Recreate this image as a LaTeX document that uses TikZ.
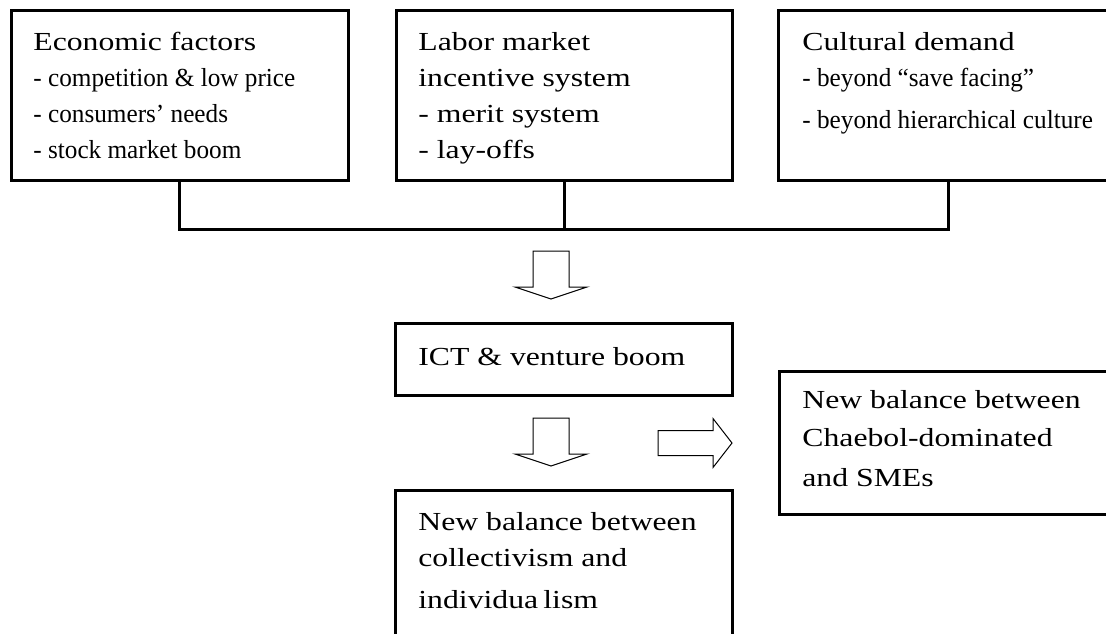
\documentclass[tikz,border=0pt]{standalone}
\usepackage{fontspec}
\setmainfont{Liberation Serif}
\newfontfamily\widefont[FakeStretch=1.22]{Liberation Serif}
\newfontfamily\tightfont[FakeStretch=0.97]{Liberation Serif}
\usetikzlibrary{fit}

\tikzset{
  box/.style={draw, line width=1.5pt, inner sep=0pt},
  txt/.style={anchor=north west, inner sep=0pt, align=left, font=\tightfont\fontsize{13}{18}\selectfont},
  wide/.style={txt, font=\widefont\fontsize{13}{18}\selectfont},
  link/.style={line width=1.5pt},
  downarrow/.pic={\draw[line width=0.5pt] (-18,0) -- (18,0) -- (18,36) -- (36,36) -- (0,48) -- (-36,36) -- (-18,36) -- cycle;},
  rightarrow/.pic={\draw[line width=0.5pt] (0,-12.5) -- (55,-12.5) -- (55,-24.5) -- (74,0) -- (55,24.5) -- (55,12.5) -- (0,12.5) -- cycle;}
}

\begin{document}
\begin{tikzpicture}[x=0.5pt,y=-0.5pt]
\path[use as bounding box, clip] (0,0) rectangle (1106,633);

% three driving factors
\node[box, fit={(11,10) (348,180)}] (eco) {};
\node[box, fit={(396,10) (732,180)}] (lab) {};
\node[box, fit={(778,10) (1118,180)}] (cul) {};
\node[txt] (ecotxt) at (33,32) {{\widefont Economic factors}\\- competition \& low price\\- consumers’ needs\\- stock market boom};
\node[wide] (labtxt) at (418,32) {Labor market\\incentive system\\- merit system\\- lay-offs};
\node[txt] (cultxt) at (802,32) {{\widefont Cultural demand}\\- beyond “save facing”\\[3pt]- beyond hierarchical culture};

\draw[link] (eco.south) -- ++(0,48) -| (cul.south);
\draw[link] (lab.south) -- ++(0,48);

\pic (down1) at (551,251) {downarrow};

% outcome boxes
\node[box, fit={(395,323) (732,395)}] (ict) {};
\node[wide] (icttxt) at (418,347) {ICT \& venture boom};

\pic (down2) at (551,418) {downarrow};
\pic (right1) at (658,443) {rightarrow};

\node[box, fit={(395,490) (732,660)}] (ind) {};
\node[wide] (indtxt) at (418,512) {New balance between\\collectivism and\\[3pt]individua\hspace{0.2em}lism};

\node[box, fit={(779,371) (1119,514)}] (sme) {};
\node[wide] (smetxt) at (802,390) {New balance between\\[1pt]Chaebol-dominated\\[2pt]and SMEs};
\end{tikzpicture}
\end{document}
